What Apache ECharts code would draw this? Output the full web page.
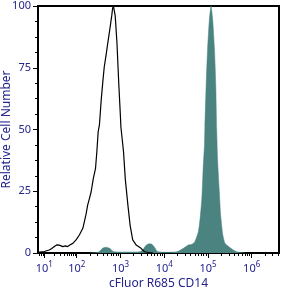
<!DOCTYPE html>
<html>
<head>
<meta charset="utf-8">
<script src="https://cdn.jsdelivr.net/npm/echarts@6/dist/echarts.min.js"></script>
<style>
  html, body { margin: 0; padding: 0; background: #fff; }
  #chart { width: 284px; height: 290px; }
</style>
</head>
<body>
<div id="chart"></div>
<script>
// decades shown on the fluorescence axis (10^n)
const decades = [1, 2, 3, 4, 5, 6]
const yTicks = [0, 25, 50, 75, 100]

// isotype / unstained control (black outline), x = log10 intensity
const ctrlLog = [0.84, 1.0, 1.15, 1.23, 1.31, 1.39, 1.46, 1.52, 1.57, 1.65, 1.72, 1.8, 1.88, 1.93, 1.98, 2.06, 2.14, 2.21, 2.25, 2.29, 2.33, 2.38, 2.43, 2.46, 2.49, 2.52, 2.56, 2.6, 2.63, 2.67, 2.71, 2.76, 2.8, 2.82, 2.84, 2.88, 2.92, 2.96, 3.0, 3.01, 3.07, 3.11, 3.17, 3.22, 3.28, 3.36, 3.47, 3.55, 3.65, 3.75]
const ctrlCount = [0.4, 0.6, 1.2, 1.8, 2.6, 3.3, 3.2, 2.8, 2.6, 2.9, 2.6, 3.3, 3.9, 4.6, 5.3, 7.3, 10, 15.4, 19.4, 22, 24.8, 30.2, 34.3, 41, 49, 52, 62, 70, 75.4, 80, 85, 91, 96, 99, 100, 96, 85, 69, 55, 51, 41, 30, 19.4, 11.3, 5.3, 3.2, 1.9, 0.5, 0.2, 0]

// cFluor R685 CD14 stained sample (teal fill)
const cd14Log = [2.3, 2.49, 2.6, 2.67, 2.76, 2.83, 2.99, 3.22, 3.45, 3.52, 3.58, 3.65, 3.72, 3.79, 3.84, 4.02, 4.29, 4.44, 4.55, 4.63, 4.7, 4.78, 4.82, 4.86, 4.89, 4.92, 4.93, 4.96, 4.99, 5.03, 5.07, 5.11, 5.15, 5.18, 5.2, 5.22, 5.26, 5.29, 5.34, 5.39, 5.47, 5.58, 5.66, 5.73, 5.85]
const cd14Count = [0, 0.3, 2.0, 2.3, 1.8, 0.6, 0.4, 0.4, 0.5, 1.5, 3.0, 3.7, 3.5, 2.0, 0.6, 0.3, 0.5, 1.9, 3.2, 3.5, 4.6, 8.6, 14, 22, 34.3, 43.7, 51, 68.7, 82, 94, 100, 94, 82, 67, 50, 38, 24.8, 15.4, 7.3, 3.9, 2.6, 1.2, 0.5, 0.2, 0]

// the display compresses the first decade (biexponential-like)
function toAxis(d) {
  return d >= 2 ? d : 2 - (2 - d) * 0.74
}

const xMin = 1.115
const xMax = 6.624
const dMin = 2 - (2 - xMin) / 0.74

let minorVals = []
for (let n = 0; n <= 6; n++) {
  for (let k = 2; k <= 9; k++) {
    let d = n + Math.log10(k)
    if (d >= dMin && toAxis(d) <= xMax) minorVals.push(toAxis(d))
  }
}
const majorVals = decades.map(toAxis)

const ink = '#24248c'
const font = 'Noto Sans'

let chart = echarts.init(document.getElementById('chart'))
let option = {
  backgroundColor: '#fff',
  animation: false,
  grid: {
    left: 38, right: 5, top: 6, bottom: 37,
    outerBoundsMode: 'none',
    containLabel: false,
    show: true,
    borderColor: '#000',
    borderWidth: 2
  },
  xAxis: [
    {
      type: 'value',
      position: 'bottom',
      min: xMin,
      max: xMax,
      name: 'cFluor R685 CD14',
      nameLocation: 'middle',
      nameGap: 25,
      nameMoveOverlap: false,
      nameTextStyle: { color: ink, fontSize: 12, fontFamily: font },
      axisLine: { lineStyle: { color: '#000', width: 2 } },
      axisTick: { show: true, length: 5, customValues: majorVals, lineStyle: { color: '#000' } },
      splitLine: { show: false },
      axisLabel: {
        customValues: majorVals,
        margin: 8,
        formatter: function (v) {
          let i = majorVals.findIndex(m => Math.abs(m - v) < 1e-6)
          return '{b|10}{s|' + decades[i] + '}'
        },
        rich: {
          b: { color: ink, fontSize: 11, fontFamily: font, lineHeight: 16 },
          s: { color: ink, fontSize: 8, fontFamily: font, verticalAlign: 'top', lineHeight: 10 }
        }
      }
    },
    {
      type: 'value',
      position: 'bottom',
      min: xMin,
      max: xMax,
      axisLine: { show: false },
      axisTick: { show: true, length: 3, customValues: minorVals, lineStyle: { color: '#000' } },
      axisLabel: { show: false },
      splitLine: { show: false }
    }
  ],
  yAxis: {
    type: 'value',
    min: 0,
    max: 100,
    interval: 25,
    name: 'Relative Cell Number',
    nameLocation: 'middle',
    nameGap: 25,
    nameMoveOverlap: false,
    nameTextStyle: { color: ink, fontSize: 12, fontFamily: font },
    axisLine: { show: true, lineStyle: { color: '#000', width: 2 } },
    axisTick: { show: true, length: 5, lineStyle: { color: '#000' } },
    minorTick: { show: true, splitNumber: 4, length: 3, lineStyle: { color: '#000' } },
    splitLine: { show: false },
    axisLabel: {
      color: ink,
      fontSize: 11,
      fontFamily: font,
      margin: 7,
      formatter: v => String(yTicks[yTicks.indexOf(v)])
    }
  },
  series: [
    {
      name: 'CD14',
      type: 'line',
      xAxisIndex: 0,
      showSymbol: false,
      smooth: 0.2,
      data: cd14Log.map((d, i) => [toAxis(d), cd14Count[i]]),
      lineStyle: { color: '#4b8381', width: 0.5 },
      areaStyle: { color: '#4b8381', opacity: 1 }
    },
    {
      name: 'Control',
      type: 'line',
      xAxisIndex: 0,
      showSymbol: false,
      data: ctrlLog.map((d, i) => [toAxis(d), ctrlCount[i]]),
      lineStyle: { color: '#000', width: 1.2 }
    }
  ]
}
chart.setOption(option)
</script>
</body>
</html>
